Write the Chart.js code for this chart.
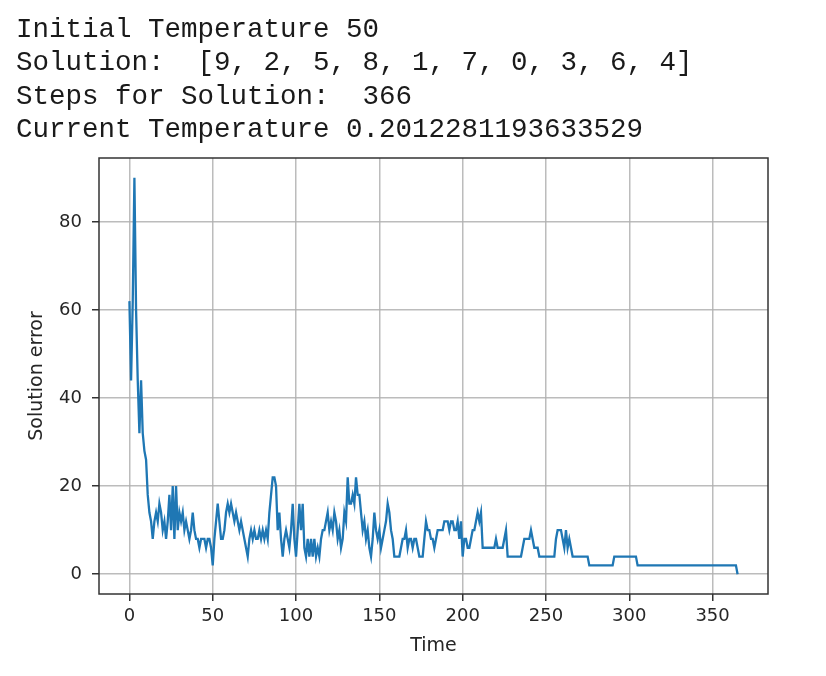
<!DOCTYPE html>
<html>
<head>
<meta charset="utf-8">
<title>Solution error over time</title>
<script src="https://cdn.jsdelivr.net/npm/chart.js@4.4.1/dist/chart.umd.min.js"></script>
<style>
  html, body { margin: 0; padding: 0; background: #fff; }
  #wrap { position: relative; width: 826px; height: 676px; overflow: hidden; }
  #chartBox { position: absolute; left: 0; top: 0; width: 826px; height: 676px; }
  #log {
    position: absolute; left: 16px; top: 13px; margin: 0; z-index: 2;
    font: 27.5px/33.3px "Liberation Mono", "DejaVu Sans Mono", monospace;
    color: #1a1a1a;
  }
</style>
</head>
<body>
<div id="wrap">
  <div id="chartBox"><canvas id="errChart"></canvas></div>
<pre id="log">Initial Temperature 50
Solution:  [9, 2, 5, 8, 1, 7, 0, 3, 6, 4]
Steps for Solution:  366
Current Temperature 0.2012281193633529</pre>
</div>
<script>
// ── Data (one value per step) ───────────────────────────────────────────────
const errorValues = [
  62, 44, 62, 90, 60, 44, 32, 44, 32, 28,   // 0
  26, 18, 14, 12, 8, 12, 14, 12, 16, 14,    // 10
  10, 12, 8, 12, 18, 10, 20, 8, 20, 10,     // 20
  14, 12, 14, 10, 12, 10, 8, 10, 14, 10,    // 30
  8, 8, 6, 8, 8, 8, 6, 8, 8, 6,             // 40
  2, 8, 12, 16, 12, 8, 8, 10, 14, 16,       // 50
  14, 16, 14, 12, 14, 12, 10, 12, 10, 8,    // 60
  6, 4, 8, 10, 8, 10, 8, 8, 10, 8,          // 70
  10, 8, 10, 8, 14, 18, 22, 22, 20, 10,     // 80
  14, 8, 4, 8, 10, 8, 6, 10, 16, 8,         // 90
  4, 10, 16, 10, 16, 6, 4, 8, 4, 8,         // 100
  4, 8, 4, 6, 4, 8, 10, 10, 12, 14,         // 110
  10, 12, 10, 14, 12, 8, 10, 6, 8, 14,      // 120
  12, 22, 16, 16, 18, 16, 22, 18, 18, 14,   // 130
  10, 12, 8, 10, 6, 4, 8, 14, 10, 8,        // 140
  10, 6, 8, 10, 12, 16, 14, 10, 8, 4,       // 150
  4, 4, 4, 6, 8, 8, 10, 6, 8, 8,            // 160
  6, 8, 8, 6, 4, 4, 4, 8, 12, 10,           // 170
  10, 8, 8, 6, 8, 10, 10, 10, 10, 12,       // 180
  12, 12, 10, 12, 12, 10, 10, 12, 8, 12,    // 190
  4, 8, 8, 6, 6, 8, 10, 10, 12, 14,         // 200
  12, 14, 6, 6, 6, 6, 6, 6, 6, 6,           // 210
  8, 6, 6, 6, 6, 8, 10, 4, 4, 4,            // 220
  4, 4, 4, 4, 4, 4, 6, 8, 8, 8,             // 230
  8, 10, 8, 6, 6, 6, 4, 4, 4, 4,            // 240
  4, 4, 4, 4, 4, 4, 8, 10, 10, 10,          // 250
  8, 6, 10, 6, 8, 6, 4, 4, 4, 4,            // 260
  4, 4, 4, 4, 4, 4, 2, 2, 2, 2,             // 270
  2, 2, 2, 2, 2, 2, 2, 2, 2, 2,             // 280
  2, 4, 4, 4, 4, 4, 4, 4, 4, 4,             // 290
  4, 4, 4, 4, 4, 2, 2, 2, 2, 2,             // 300
  2, 2, 2, 2, 2, 2, 2, 2, 2, 2,             // 310
  2, 2, 2, 2, 2, 2, 2, 2, 2, 2,             // 320
  2, 2, 2, 2, 2, 2, 2, 2, 2, 2,             // 330
  2, 2, 2, 2, 2, 2, 2, 2, 2, 2,             // 340
  2, 2, 2, 2, 2, 2, 2, 2, 2, 2,             // 350
  2, 2, 2, 2, 2, 0                          // 360
];

const xTicks = [0, 50, 100, 150, 200, 250, 300, 350];
const yTicks = [0, 20, 40, 60, 80];
const xLabel = 'Time';
const yLabel = 'Solution error';

// ── Style ───────────────────────────────────────────────────────────────────
const LINE_COLOR = '#1f77b4';
const GRID_COLOR = 'rgba(176,176,176,0.85)';
const SPINE_COLOR = '#333';
const TEXT_COLOR = '#262626';
const axisFont = { family: 'DejaVu Sans', size: 18 };
const titleFont = { family: 'DejaVu Sans', size: 19 };

// matplotlib-like 5% margins around the data
function paddedRange(min, max) {
    const pad = (max - min) * 0.05;
    return { min: min - pad, max: max + pad };
}

// box round the plot area, drawn on top like mpl spines
const framePlugin = {
    id: 'frame',
    afterDraw(chart) {
        const { ctx, chartArea: a } = chart;
        ctx.save();
        ctx.strokeStyle = SPINE_COLOR;
        ctx.lineWidth = 1.5;
        ctx.strokeRect(a.left, a.top, a.right - a.left, a.bottom - a.top);
        ctx.restore();
    }
};

function axisOptions(range, tickValues, label, fitFn, tickPad, titlePad) {
    return {
        type: 'linear',
        min: range.min,
        max: range.max,
        afterFit: fitFn,
        afterBuildTicks: s => { s.ticks = tickValues.map(v => ({ value: v })); },
        border: { display: false },
        grid: {
            color: GRID_COLOR, lineWidth: 1.5,
            tickColor: SPINE_COLOR, tickWidth: 1.5, tickLength: 7
        },
        ticks: { maxRotation: 0, padding: tickPad, color: TEXT_COLOR, font: axisFont },
        title: { display: true, text: label, color: TEXT_COLOR, font: titleFont, padding: titlePad }
    };
}

function renderChart() {
    const points = errorValues.map((v, i) => ({ x: i, y: v }));
    const xr = paddedRange(0, errorValues.length - 1);
    const yr = paddedRange(Math.min(...errorValues), Math.max(...errorValues));

    new Chart(document.getElementById('errChart'), {
        type: 'line',
        data: {
            datasets: [{
                data: points,
                borderColor: LINE_COLOR,
                borderWidth: 2.3,
                pointRadius: 0,
                tension: 0,
                fill: false
            }]
        },
        options: {
            responsive: true,
            maintainAspectRatio: false,
            animation: false,
            layout: { padding: { top: 158, right: 58, bottom: 0, left: 0 } },
            plugins: { legend: { display: false }, tooltip: { enabled: false } },
            scales: {
                x: axisOptions(xr, xTicks, xLabel, s => { s.height = 82; }, 5, { top: 0, bottom: 19 }),
                y: axisOptions(yr, yTicks, yLabel, s => { s.width = 99; }, 10, { top: 26, bottom: 0 })
            }
        },
        plugins: [framePlugin]
    });
}

// ── Boot ──────────────────────────────────────────────────────────────────
document.addEventListener('DOMContentLoaded', renderChart);
</script>
</body>
</html>
